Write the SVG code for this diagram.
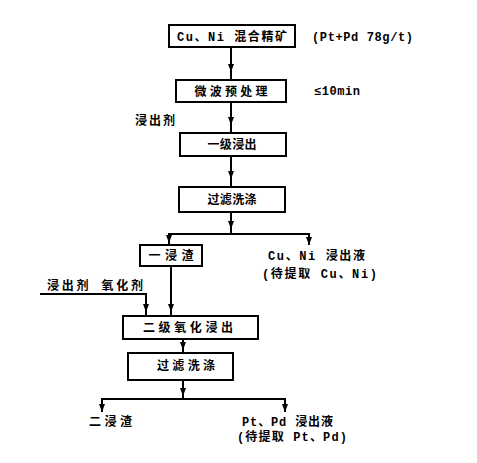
<svg xmlns="http://www.w3.org/2000/svg" width="477" height="463" viewBox="0 0 477 463">
<style>
.box{fill:#fff;stroke:#000;stroke-width:2}
.ln{fill:none;stroke:#000;stroke-width:2}
text{font-family:"Liberation Mono","Noto Sans CJK SC",monospace;font-size:12px;font-weight:bold;fill:#000}
.c{text-anchor:middle}
</style>
<defs>
<marker id="ah" markerWidth="8" markerHeight="6" refX="8" refY="3" orient="auto" markerUnits="userSpaceOnUse" viewBox="0 0 8 6">
<path d="M0,0 L8,3 L0,6 Z" fill="#000"/>
</marker>
</defs>
<rect width="477" height="463" fill="#fff"/>
<g id="connectors">
<line class="ln" x1="231" y1="47" x2="231" y2="80"/>
<line class="ln" x1="231" y1="47" x2="231" y2="72" marker-end="url(#ah)"/>
<line class="ln" x1="231" y1="102" x2="231" y2="133"/>
<line class="ln" x1="231" y1="102" x2="231" y2="125" marker-end="url(#ah)"/>
<line class="ln" x1="231" y1="156" x2="231" y2="187"/>
<line class="ln" x1="231" y1="156" x2="231" y2="179" marker-end="url(#ah)"/>
<line class="ln" x1="231" y1="212" x2="231" y2="234"/>
<line class="ln" x1="231" y1="212" x2="231" y2="229" marker-end="url(#ah)"/>
<polyline class="ln" points="169,245 169,234 309,234 309,245"/>
<line class="ln" x1="169" y1="234" x2="169" y2="243" marker-end="url(#ah)"/>
<line class="ln" x1="309" y1="234" x2="309" y2="245" marker-end="url(#ah)"/>
<line class="ln" x1="171" y1="266" x2="171" y2="316"/>
<line class="ln" x1="171" y1="266" x2="171" y2="312" marker-end="url(#ah)"/>
<polyline class="ln" points="40,294 146,294 146,316"/>
<line class="ln" x1="146" y1="294" x2="146" y2="312" marker-end="url(#ah)"/>
<line class="ln" x1="183" y1="339" x2="183" y2="353"/>
<line class="ln" x1="183" y1="339" x2="183" y2="350" marker-end="url(#ah)"/>
<line class="ln" x1="183" y1="380" x2="183" y2="399"/>
<line class="ln" x1="183" y1="380" x2="183" y2="396" marker-end="url(#ah)"/>
<polyline class="ln" points="102,412 102,399 285,399 285,412"/>
<line class="ln" x1="102" y1="399" x2="102" y2="412" marker-end="url(#ah)"/>
<line class="ln" x1="285" y1="399" x2="285" y2="412" marker-end="url(#ah)"/>
</g>
<g id="n1"><rect class="box" x="169" y="25" width="126" height="22"/><text class="c" x="232" y="41" textLength="110" lengthAdjust="spacing">Cu、Ni 混合精矿</text></g>
<g id="n1note"><text x="312" y="41" textLength="101" lengthAdjust="spacing">(Pt+Pd 78g/t)</text></g>
<g id="n2"><rect class="box" x="176" y="80" width="110" height="22"/><text class="c" x="231" y="96" textLength="73" lengthAdjust="spacing">微波预处理</text></g>
<g id="n2note"><text x="314" y="95" textLength="46" lengthAdjust="spacing">≤10min</text></g>
<g id="reagent1"><text x="135" y="125" textLength="40" lengthAdjust="spacing">浸出剂</text></g>
<g id="n3"><rect class="box" x="180" y="133" width="106" height="23"/><text class="c" x="232" y="149" textLength="49" lengthAdjust="spacing">一级浸出</text></g>
<g id="n4"><rect class="box" x="179" y="187" width="106" height="25"/><text class="c" x="232" y="204" textLength="49" lengthAdjust="spacing">过滤洗涤</text></g>
<g id="n5"><rect class="box" x="140" y="245" width="62" height="21"/><text class="c" x="171" y="260" textLength="45" lengthAdjust="spacing">一浸渣</text></g>
<g id="n5b"><text x="268" y="260" textLength="97" lengthAdjust="spacing">Cu、Ni 浸出液</text><text x="262" y="278" textLength="115" lengthAdjust="spacing">(待提取 Cu、Ni)</text></g>
<g id="reagent2"><text x="47" y="290" textLength="96" lengthAdjust="spacing">浸出剂 氧化剂</text></g>
<g id="n6"><rect class="box" x="123" y="316" width="135" height="23"/><text class="c" x="188" y="332" textLength="90" lengthAdjust="spacing">二级氧化浸出</text></g>
<g id="n7"><rect class="box" x="128" y="353" width="105" height="27"/><text class="c" x="186" y="370" textLength="58" lengthAdjust="spacing">过滤洗涤</text></g>
<g id="n8"><text x="89" y="426" textLength="43" lengthAdjust="spacing">二浸渣</text></g>
<g id="n9"><text x="242" y="426" textLength="91" lengthAdjust="spacing">Pt、Pd 浸出液</text><text x="237" y="441" textLength="110" lengthAdjust="spacing">(待提取 Pt、Pd)</text></g>
</svg>
